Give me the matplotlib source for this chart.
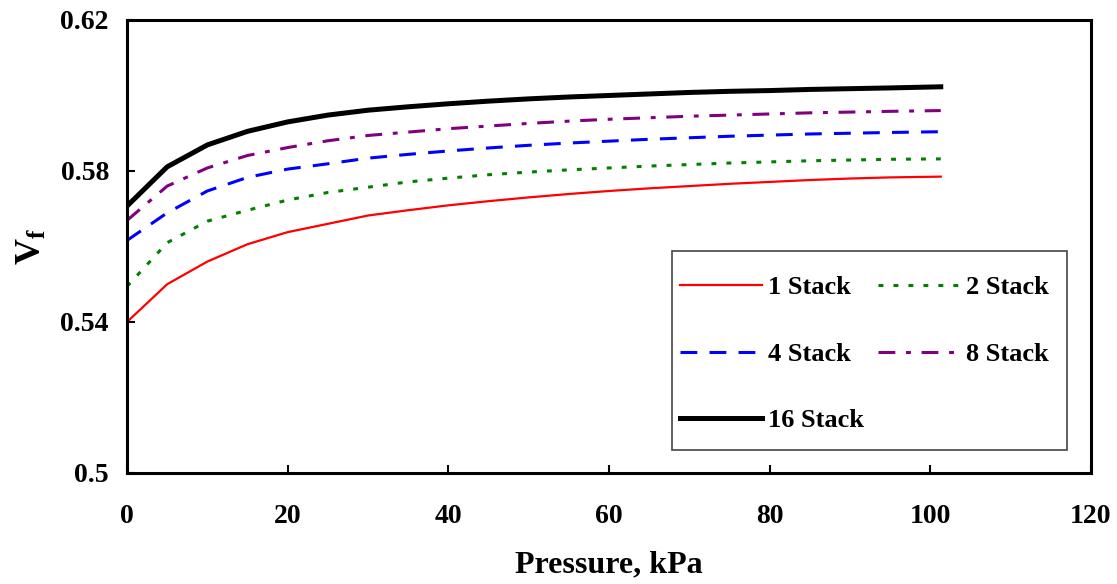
import numpy as np
import matplotlib.pyplot as plt
from matplotlib.patches import Rectangle

# pressure points (kPa)
pressure = [0, 5, 10, 15, 20, 25, 30, 35, 40, 45, 50, 55, 60, 65, 70, 75, 80, 85, 90, 95, 101.3]

vf_1 = [0.5400, 0.5500, 0.5560, 0.5606, 0.5638, 0.5660, 0.5682, 0.5696, 0.5709, 0.5720, 0.5730,
        0.5739, 0.5747, 0.5754, 0.5760, 0.5766, 0.5771, 0.5776, 0.5780, 0.5783, 0.5785]
vf_2 = [0.5494, 0.5610, 0.5667, 0.5696, 0.5723, 0.5743, 0.5757, 0.5771, 0.5781, 0.5790, 0.5797,
        0.5803, 0.5808, 0.5813, 0.5817, 0.5821, 0.5824, 0.5827, 0.5829, 0.5831, 0.5832]
vf_4 = [0.5616, 0.5689, 0.5747, 0.5783, 0.5805, 0.5819, 0.5834, 0.5844, 0.5853, 0.5861, 0.5868,
        0.5874, 0.5879, 0.5884, 0.5888, 0.5892, 0.5895, 0.5898, 0.5900, 0.5902, 0.5904]
vf_8 = [0.5669, 0.5760, 0.5808, 0.5841, 0.5862, 0.5880, 0.5894, 0.5903, 0.5912, 0.5919, 0.5926,
        0.5932, 0.5937, 0.5941, 0.5945, 0.5948, 0.5951, 0.5954, 0.5956, 0.5958, 0.5960]
vf_16 = [0.5707, 0.5811, 0.5869, 0.5905, 0.5930, 0.5948, 0.5961, 0.5970, 0.5978, 0.5985, 0.5991,
         0.5996, 0.6000, 0.6004, 0.6008, 0.6011, 0.6013, 0.6016, 0.6018, 0.6020, 0.6023]

plt.rcParams['font.family'] = ['Liberation Serif', 'DejaVu Serif']
plt.rcParams['font.weight'] = 'bold'
plt.rcParams['mathtext.fontset'] = 'custom'
plt.rcParams['mathtext.rm'] = 'Liberation Serif:bold'
plt.rcParams['mathtext.bf'] = 'Liberation Serif:bold'
plt.rcParams['mathtext.it'] = 'Liberation Serif:bold'

fig = plt.figure(figsize=(11.17, 5.84), dpi=100)
ax = fig.add_axes([0.1137, 0.1901, 0.8630, 0.7757])

l1, = ax.plot(pressure, vf_1, color='red', lw=1.6, label='1 Stack')
l2, = ax.plot(pressure, vf_2, color='green', lw=2.2, ls=(0, (1.6, 3.3)), label='2 Stack')
l4, = ax.plot(pressure, vf_4, color='blue', lw=2.2, ls=(0, (5.5, 4)), label='4 Stack')
l8, = ax.plot(pressure, vf_8, color='purple', lw=2.2, ls=(0, (5.5, 3.5, 1.6, 3.5)), label='8 Stack')
l16, = ax.plot(pressure, vf_16, color='black', lw=3.6, label='16 Stack')

ax.set_xlim(0, 120)
ax.set_ylim(0.5, 0.62)
ax.set_xticks([0, 20, 40, 60, 80, 100, 120])
ax.set_yticks([0.5, 0.54, 0.58, 0.62])
ax.set_yticklabels(['0.5', '0.54', '0.58', '0.62'])
ax.tick_params(direction='in', length=6, width=1.5, labelsize=20)
ax.tick_params(axis='x', pad=22)
ax.tick_params(axis='y', pad=13)
for lab in ax.get_xticklabels() + ax.get_yticklabels():
    lab.set_fontweight('bold')
for s in ax.spines.values():
    s.set_linewidth(2.2)

ax.set_xlabel('Pressure, kPa', fontsize=23, fontweight='bold', labelpad=16)
ax.set_ylabel(r'$\mathbf{V_f}$', fontsize=26, labelpad=8)

# legend frame
ax.add_patch(Rectangle((0.5654, 0.0508), 0.41, 0.439, transform=ax.transAxes,
                       facecolor='white', edgecolor='#444444', lw=1.2, zorder=4))
leg = ax.legend([l1, l4, l16, l2, l8], ['1 Stack', '4 Stack', '16 Stack', '2 Stack', '8 Stack'],
                ncol=2, loc='upper left', bbox_to_anchor=(0.5737, 0.4349),
                handlelength=3.1, handletextpad=0.25, labelspacing=1.63,
                columnspacing=0.5, borderpad=0, borderaxespad=0, frameon=False,
                prop={'weight': 'bold', 'size': 19})
leg.set_zorder(5)

fig.savefig('out.png', dpi=100)
